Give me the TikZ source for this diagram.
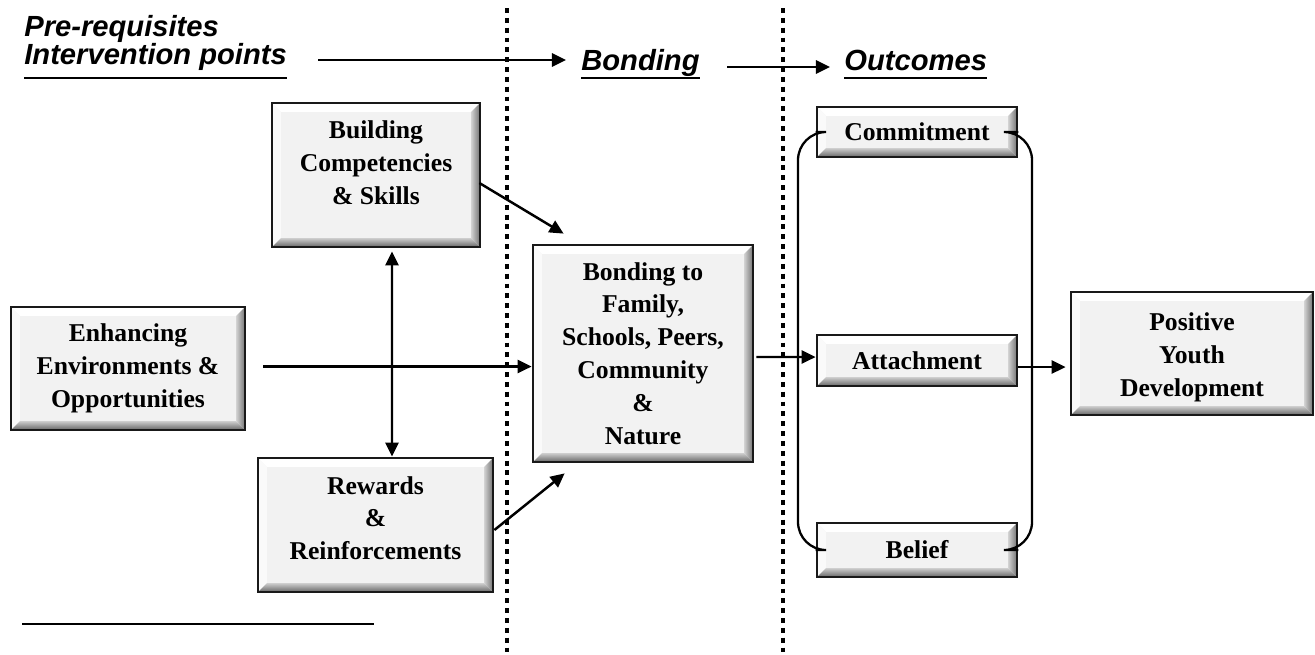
\documentclass[tikz,border=0pt]{standalone}
\usepackage{fontspec}
\setmainfont{Liberation Serif}
\newfontfamily\hdfamily{Liberation Sans}
\usetikzlibrary{arrows.meta,calc}
\newcommand\bxfont{\fontsize{14.6}{18.7}\selectfont\bfseries}
\newcommand\hdfont{\hdfamily\fontsize{16.6}{20}\selectfont\bfseries\itshape}
\tikzset{
  bev/.style={draw=black!90, line width=1.6pt, fill=black!5, align=center, inner sep=2pt, font=\bxfont,
    path picture={
      \fill[white] (path picture bounding box.north west) -- (path picture bounding box.north east)
        -- ([shift={(-5pt,-5pt)}]path picture bounding box.north east)
        -- ([shift={(5pt,-5pt)}]path picture bounding box.north west) -- cycle;
      \fill[black!2] (path picture bounding box.north west) -- ([shift={(5pt,-5pt)}]path picture bounding box.north west)
        -- ([shift={(5pt,5pt)}]path picture bounding box.south west) -- (path picture bounding box.south west) -- cycle;
      \shade[left color=black!18, right color=black!55] (path picture bounding box.north east)
        -- ([shift={(-5pt,-5pt)}]path picture bounding box.north east)
        -- ([shift={(-5pt,5pt)}]path picture bounding box.south east) -- (path picture bounding box.south east) -- cycle;
      \shade[top color=black!20, bottom color=black!60] (path picture bounding box.south west)
        -- ([shift={(5pt,5pt)}]path picture bounding box.south west)
        -- ([shift={(-5pt,5pt)}]path picture bounding box.south east) -- (path picture bounding box.south east) -- cycle;
    }},
  arr/.style={line width=1.4pt, -{Triangle[length=8pt,width=7.5pt]}},
  dbl/.style={line width=1.4pt, {Triangle[length=8pt,width=7.5pt]}-{Triangle[length=8pt,width=7.5pt]}},
  hd/.style={font=\hdfont, inner sep=0pt, anchor=base west},
  dotline/.style={line width=2.8pt, dash pattern=on 2.8pt off 2.8pt},
  brk/.style={line width=1.3pt, rounded corners=16pt},
  rule/.style={line width=1.5pt}
}
\begin{document}
\begin{tikzpicture}[x=0.02cm,y=-0.02cm]
\useasboundingbox (0,0) rectangle (1315,654);

% dotted separators
\coordinate (d1t) at (507,8); \coordinate (d1b) at (507,654);
\coordinate (d2t) at (783,8); \coordinate (d2b) at (783,654);
\draw[dotline] (d1t) -- (d1b);
\draw[dotline] (d2t) -- (d2b);

% headers
\node[hd] (pre) at (24,36) {Pre-requisites};
\node[hd] (int) at (24,64) {Intervention points};
\node[hd] (hb) at (581,70) {Bonding};
\node[hd] (ho) at (844,70) {Outcomes};
\coordinate (ul) at (0,78);
\draw[rule] (int.west |- ul) -- (int.east |- ul);
\draw[rule] (hb.west |- ul) -- (hb.east |- ul);
\draw[rule] (ho.west |- ul) -- (ho.east |- ul);
\coordinate (h1s) at (318,60); \coordinate (h1e) at (566,60);
\coordinate (h2s) at (727,67); \coordinate (h2e) at (830,67);
\draw[arr] (h1s) -- (h1e);
\draw[arr] (h2s) -- (h2e);

% boxes
\node[bev, minimum width=4.16cm, minimum height=2.88cm, text depth=14pt] (build) at (376,175) {Building\\Competencies\\\& Skills};
\node[bev, minimum width=4.68cm, minimum height=2.46cm] (env) at (128,368.5) {Enhancing\\Environments \&\\Opportunities};
\node[bev, minimum width=4.7cm, minimum height=2.68cm, text depth=8pt] (rew) at (375.5,525) {Rewards\\\&\\Reinforcements};
\node[bev, minimum width=4.4cm, minimum height=4.34cm] (bond) at (643,353.5) {Bonding to\\Family,\\Schools, Peers,\\Community\\\&\\Nature};
\node[bev, minimum width=4cm, minimum height=1cm] (com) at (917,132) {Commitment};
\node[bev, minimum width=4cm, minimum height=1.02cm] (att) at (917,360.5) {Attachment};
\node[bev, minimum width=4cm, minimum height=1.08cm] (bel) at (917,550) {Belief};
\node[bev, minimum width=4.84cm, minimum height=2.46cm] (pyd) at (1192,353.5) {\rule{0pt}{14.5pt}Positive\\Youth\\Development};

% connectors
\draw[arr] ([shift={(-2,8)}]build.east) -- ([shift={(32,-10)}]bond.north west);
\draw[arr] ([shift={(0,5)}]rew.east) -- ([shift={(33,10)}]bond.south west);
\draw[arr] ([shift={(17,-2)}]env.east) -- ([shift={(0,13)}]bond.west);
\draw[dbl] ([shift={(16,3)}]build.south) -- ([shift={(16.5,0)}]rew.north);
\draw[arr] ([shift={(2,3.5)}]bond.east) -- ([shift={(0,-3.5)}]att.west);
\draw[arr] ([shift={(0,6.5)}]att.east) -- ([shift={(-4,13.5)}]pyd.west);

% brackets
\coordinate (bl) at (798,0);
\coordinate (br) at (1032,0);
\draw[brk] (com.west) -- (com.west -| bl) -- (bel.west -| bl) -- (bel.west);
\draw[brk] (com.east) -- (com.east -| br) -- (bel.east -| br) -- (bel.east);

% bottom rule
\coordinate (r1) at (22,624); \coordinate (r2) at (374,624);
\draw[rule] (r1) -- (r2);
\end{tikzpicture}
\end{document}
